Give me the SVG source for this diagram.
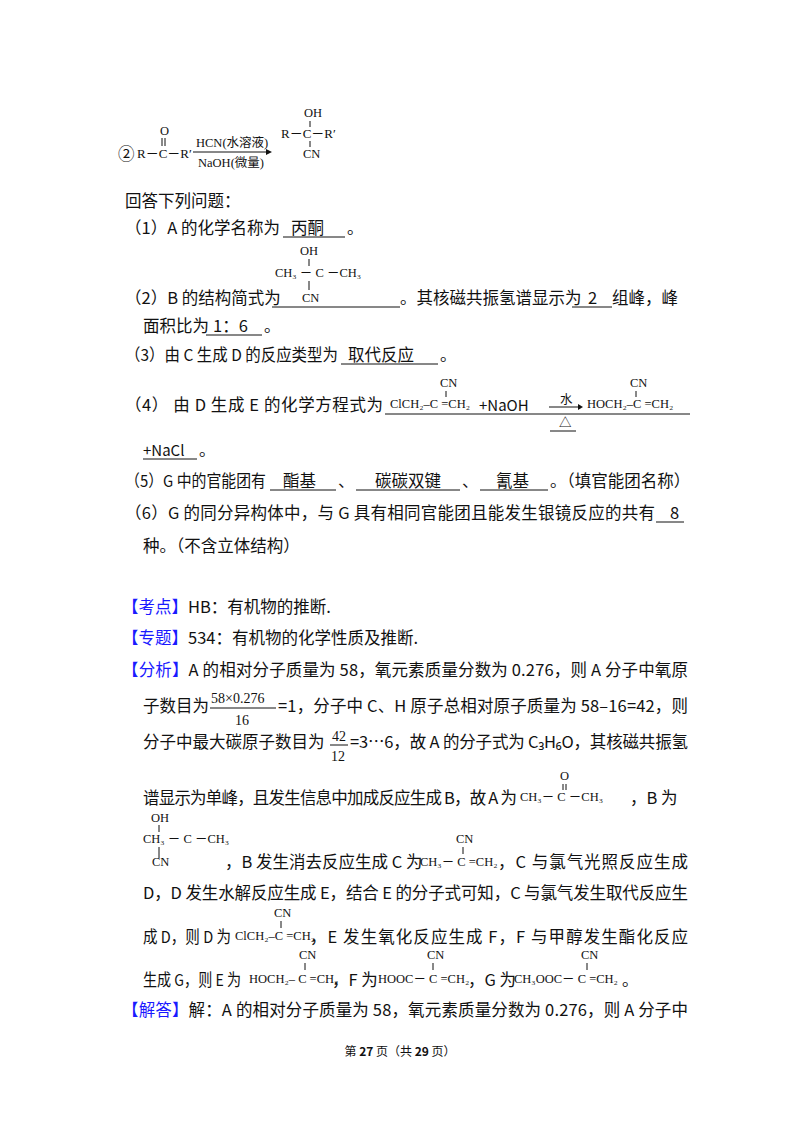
<svg xmlns="http://www.w3.org/2000/svg" width="800" height="1132" viewBox="0 0 800 1132">
<style>
.t{font-family:"Noto Sans CJK SC","Noto Sans",sans-serif;font-size:16.5px;fill:#111}
.c{font-family:"Liberation Serif","Noto Sans CJK SC",serif;font-size:12.5px;fill:#111}
.b{fill:#1a1aff}
.u{stroke:#111;stroke-width:1}
.s{stroke:#111;stroke-width:1}
</style>
<rect width="800" height="1132" fill="#fff"/>
<g id="reaction2">
<text class="t" x="118" y="160">②</text>
<text class="c" x="137" y="158" style="font-size:13px">R－C－R′</text>
<text class="c" x="160" y="135">O</text>
<line class="s" x1="162" y1="138" x2="162" y2="146"/><line class="s" x1="165" y1="138" x2="165" y2="146"/>
<line class="s" x1="193" y1="152" x2="266" y2="152"/>
<path d="M266,149 L272,152 L266,155 Z" fill="#111"/>
<text class="c" x="196" y="147">HCN(水溶液)</text>
<text class="c" x="198" y="167">NaOH(微量)</text>
<text class="c" x="304" y="117">OH</text>
<line class="s" x1="310" y1="121" x2="310" y2="127"/>
<text class="c" x="281" y="138" style="font-size:13px">R－C－R′</text>
<line class="s" x1="310" y1="141" x2="310" y2="147"/>
<text class="c" x="303" y="158">CN</text>
</g>
<g id="questions">
<text class="t" x="125" y="207">回答下列问题：</text>
<text class="t" x="125" y="234">（1）A 的化学名称为</text>
<text class="t" x="291" y="234">丙酮</text>
<line class="u" x1="283" y1="237" x2="345" y2="237"/>
<text class="t" x="347" y="234">。</text>
<text class="c" x="300" y="255">OH</text>
<line class="s" x1="309" y1="259" x2="309" y2="266"/>
<text class="c" x="275" y="277">CH₃ － C －CH₃</text>
<line class="s" x1="309" y1="281" x2="309" y2="290"/>
<text class="c" x="302" y="302">CN</text>
<text class="t" x="125" y="304">（2）B 的结构简式为</text>
<line class="u" x1="272" y1="307" x2="400" y2="307"/>
<text class="t" x="400" y="304">。其核磁共振氢谱显示为</text>
<text class="t" x="588" y="304">2</text>
<line class="u" x1="572" y1="307" x2="612" y2="307"/>
<text class="t" x="612" y="304">组峰，峰</text>
<text class="t" x="143" y="332">面积比为</text>
<text class="t" x="213" y="332">1：6</text>
<line class="u" x1="206" y1="335" x2="262" y2="335"/>
<text class="t" x="264" y="332">。</text>
<text class="t" x="125" y="361" textLength="213" lengthAdjust="spacingAndGlyphs">（3）由 C 生成 D 的反应类型为</text>
<text class="t" x="348" y="361">取代反应</text>
<line class="u" x1="341" y1="364" x2="438" y2="364"/>
<text class="t" x="440" y="361">。</text>
<text class="t" x="125" y="411" textLength="258" lengthAdjust="spacing">（4） 由 D 生成 E 的化学方程式为</text>
<text class="c" x="390" y="408">ClCH₂–C =CH₂</text>
<text class="t" x="479" y="411" style="font-size:15px">+NaOH</text>
<text class="c" x="440" y="387">CN</text>
<line class="s" x1="446" y1="391" x2="446" y2="397"/>
<text class="c" x="560" y="404">水</text>
<line class="s" x1="549" y1="407" x2="580" y2="407"/>
<path d="M578,404 L583,407 L578,410 Z" fill="#111"/>
<text class="c" x="559" y="427">△</text>
<line class="u" x1="550" y1="431" x2="576" y2="431"/>
<text class="c" x="587" y="408">HOCH₂–C =CH₂</text>
<text class="c" x="630" y="387">CN</text>
<line class="s" x1="636" y1="391" x2="636" y2="397"/>
<line class="u" x1="385" y1="414" x2="690" y2="414"/>
<text class="t" x="143" y="456" style="font-size:15px">+NaCl</text>
<line class="u" x1="143" y1="459" x2="197" y2="459"/>
<text class="t" x="199" y="456">。</text>
<text class="t" x="125" y="487" textLength="141" lengthAdjust="spacingAndGlyphs">（5）G 中的官能团有</text>
<text class="t" x="283" y="487">酯基</text>
<line class="u" x1="270" y1="490" x2="336" y2="490"/>
<text class="t" x="338" y="487">、</text>
<text class="t" x="375" y="487">碳碳双键</text>
<line class="u" x1="356" y1="490" x2="460" y2="490"/>
<text class="t" x="462" y="487">、</text>
<text class="t" x="496" y="487">氰基</text>
<line class="u" x1="480" y1="490" x2="548" y2="490"/>
<text class="t" x="550" y="487">。（填官能团名称）</text>
<text class="t" x="125" y="519" textLength="530" lengthAdjust="spacing">（6）G 的同分异构体中，与 G 具有相同官能团且能发生银镜反应的共有</text>
<text class="t" x="670" y="519">8</text>
<line class="u" x1="656" y1="522" x2="684" y2="522"/>
<text class="t" x="143" y="552">种。（不含立体结构）</text>
</g>
<g id="analysis">
<text class="t" x="122" y="613"><tspan class="b">【考点】</tspan>HB：有机物的推断.</text>
<text class="t" x="122" y="644"><tspan class="b">【专题】</tspan>534：有机物的化学性质及推断.</text>
<text class="t" x="122" y="676" textLength="566" lengthAdjust="spacing"><tspan class="b">【分析】</tspan>A 的相对分子质量为 58，氧元素质量分数为 0.276，则 A 分子中氧原</text>
<text class="t" x="143" y="712">子数目为</text>
<text class="c" x="211" y="703" style="font-size:14px">58×0.276</text>
<line class="u" x1="210" y1="708" x2="276" y2="708"/>
<text class="c" x="235" y="725" style="font-size:14px">16</text>
<text class="t" x="278" y="712" textLength="410" lengthAdjust="spacing">=1，分子中 C、H 原子总相对原子质量为 58–16=42，则</text>
<text class="t" x="143" y="748">分子中最大碳原子数目为</text>
<text class="c" x="332" y="741" style="font-size:14px">42</text>
<line class="u" x1="330" y1="745" x2="348" y2="745"/>
<text class="c" x="331" y="761" style="font-size:14px">12</text>
<text class="t" x="350" y="748" textLength="338" lengthAdjust="spacing">=3…6，故 A 的分子式为 C₃H₆O，其核磁共振氢</text>
<text class="t" x="143" y="804" textLength="374" lengthAdjust="spacing">谱显示为单峰，且发生信息中加成反应生成 B，故 A 为</text>
<text class="c" x="520" y="801">CH₃－ C －CH₃</text>
<text class="c" x="560" y="780">O</text>
<line class="s" x1="563" y1="784" x2="563" y2="790"/><line class="s" x1="566" y1="784" x2="566" y2="790"/>
<text class="t" x="630" y="804">，B 为</text>
<text class="c" x="151" y="822">OH</text>
<line class="s" x1="159" y1="825" x2="159" y2="832"/>
<text class="c" x="143" y="843">CH₃ － C －CH₃</text>
<line class="s" x1="159" y1="847" x2="159" y2="858"/>
<text class="c" x="152" y="866">CN</text>
<text class="t" x="225" y="868">，B 发生消去反应生成 C 为</text>
<text class="c" x="420" y="866">CH₃－ C =CH₂</text>
<text class="c" x="456" y="843">CN</text>
<line class="s" x1="463" y1="847" x2="463" y2="854"/>
<text class="t" x="498" y="868" textLength="190" lengthAdjust="spacing">，C 与氯气光照反应生成</text>
<text class="t" x="143" y="899" textLength="545" lengthAdjust="spacing">D，D 发生水解反应生成 E，结合 E 的分子式可知，C 与氯气发生取代反应生</text>
<text class="t" x="143" y="943" textLength="88" lengthAdjust="spacingAndGlyphs">成 D，则 D 为</text>
<text class="c" x="235" y="940">ClCH₂–C =CH₂</text>
<text class="c" x="274" y="917">CN</text>
<line class="s" x1="281" y1="921" x2="281" y2="928"/>
<text class="t" x="310" y="943" textLength="378" lengthAdjust="spacing">，E 发生氧化反应生成 F，F 与甲醇发生酯化反应</text>
<text class="t" x="143" y="986" textLength="98" lengthAdjust="spacingAndGlyphs">生成 G，则 E 为</text>
<text class="c" x="249" y="983">HOCH₂– C =CH₂</text>
<text class="c" x="299" y="959">CN</text>
<line class="s" x1="305" y1="963" x2="305" y2="970"/>
<text class="t" x="332" y="986">，F 为</text>
<text class="c" x="378" y="983">HOOC－ C =CH₂</text>
<text class="c" x="427" y="959">CN</text>
<line class="s" x1="433" y1="963" x2="433" y2="970"/>
<text class="t" x="468" y="986">，G 为</text>
<text class="c" x="514" y="983">CH₃OOC－ C =CH₂</text>
<text class="c" x="581" y="959">CN</text>
<line class="s" x1="587" y1="963" x2="587" y2="970"/>
<text class="t" x="622" y="986">。</text>
<text class="t" x="122" y="1016" textLength="566" lengthAdjust="spacing"><tspan class="b">【解答】</tspan>解：A 的相对分子质量为 58，氧元素质量分数为 0.276，则 A 分子中</text>
<text class="t" x="400" y="1056" style="font-size:12px" text-anchor="middle">第 <tspan font-weight="bold">27</tspan> 页（共 <tspan font-weight="bold">29</tspan> 页）</text>
</g>
</svg>
